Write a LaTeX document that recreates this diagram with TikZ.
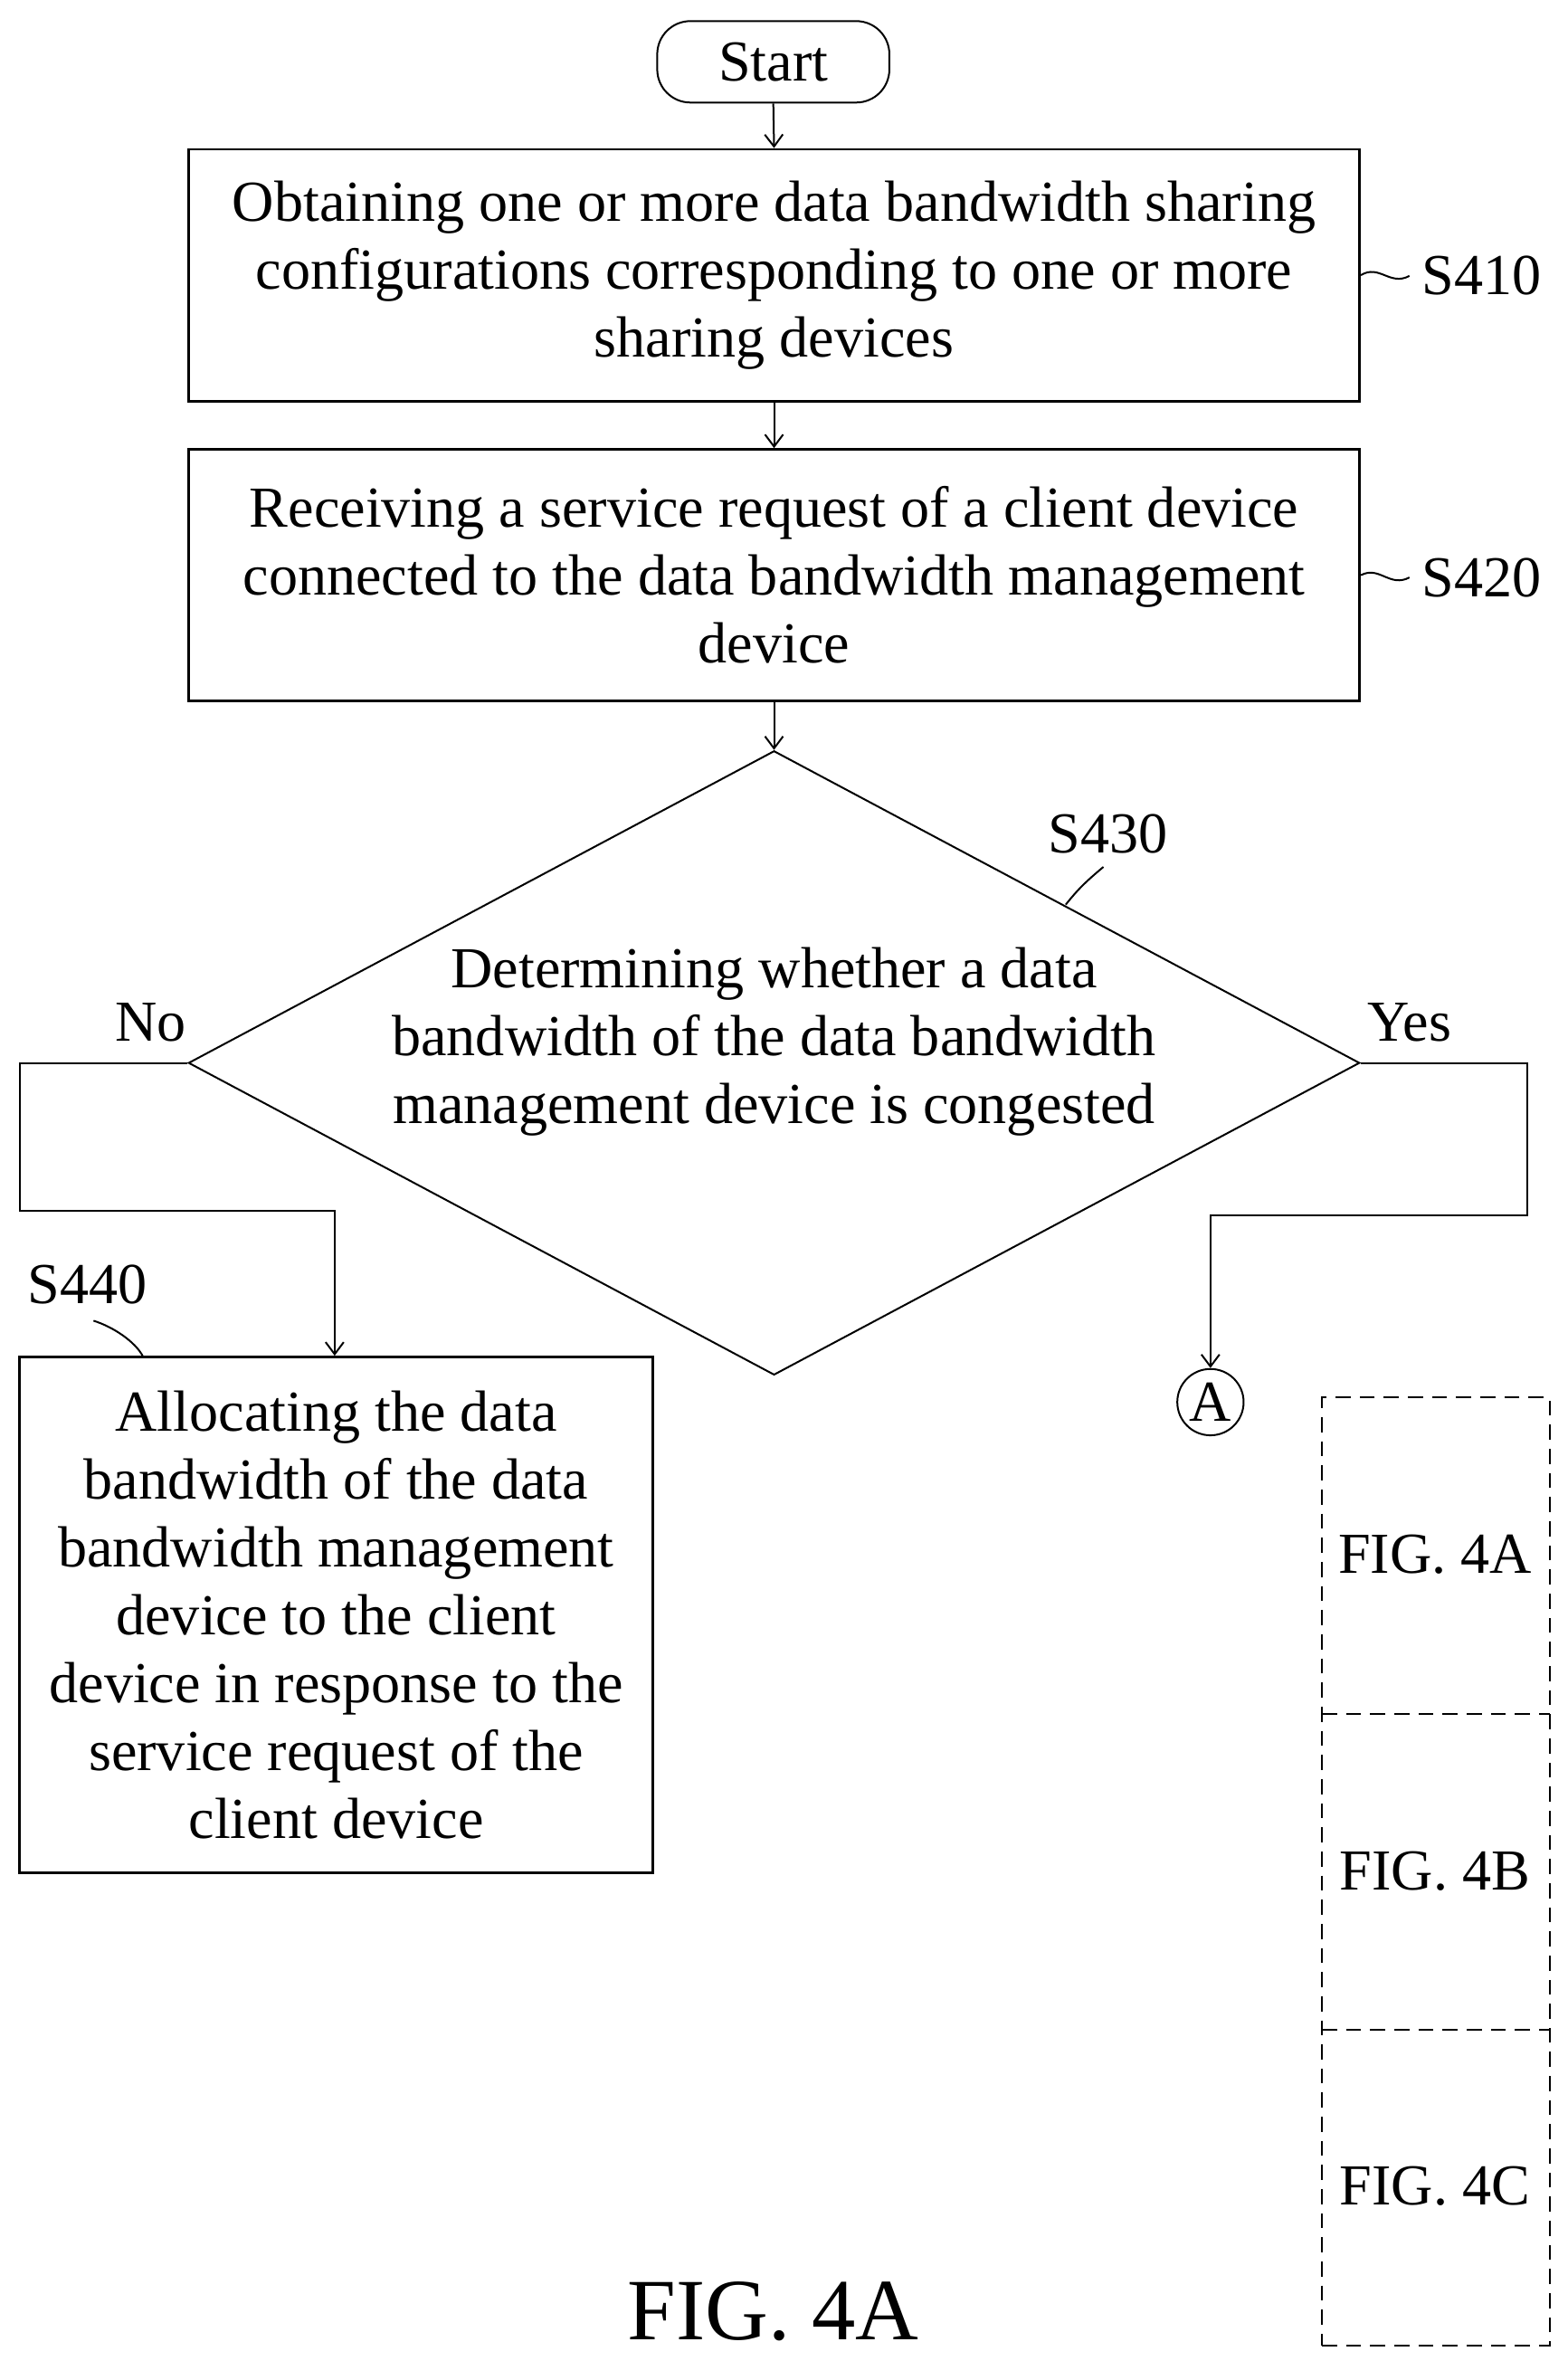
\documentclass[tikz,border=0pt]{standalone}
\usepackage{fontspec}
\setmainfont{Liberation Serif}
\usetikzlibrary{shapes.geometric,arrows.meta}
\begin{document}
\begin{tikzpicture}[x=1pt,y=-1pt,
  every node/.style={font=\fontsize{38.5}{45}\selectfont},
  box/.style={draw,line width=1.6pt,align=center,inner sep=0pt},
  ln/.style={line width=1.2pt},
  arr/.style={ln,-{Straight Barb[length=8pt,width=12pt]}},
  dsh/.style={line width=1.2pt,dash pattern=on 10pt off 6pt}]
\useasboundingbox (0,0) rectangle (1040,1566);
\node[draw,ln,rounded corners=22pt,minimum width=154pt,minimum height=54pt,inner sep=0pt] (start) at (513,41) {Start};
\node[box,minimum width=777pt,minimum height=167pt] (s410) at (513.5,182.5) {Obtaining one or more data bandwidth sharing\\configurations corresponding to one or more\\sharing devices};
\node[box,minimum width=777pt,minimum height=167pt] (s420) at (513.5,381.5) {Receiving a service request of a client device\\connected to the data bandwidth management\\device};
\node[draw,ln,diamond,aspect=1.876,minimum width=777pt,minimum height=414pt,inner sep=0pt] (d) at (513.5,705) {};
\node[align=center] (dt) at (513.5,691) {Determining whether a data\\bandwidth of the data bandwidth\\management device is congested};
\node[box,minimum width=420pt,minimum height=342pt] (s440) at (223,1071) {Allocating the data\\bandwidth of the data\\bandwidth management\\device to the client\\device in response to the\\service request of the\\client device};
\node[draw,ln,circle,minimum size=44pt,inner sep=0pt] (a) at (803,930) {A};
\node (l410) at (983,183) {S410};
\node (l420) at (983,383) {S420};
\node (l430) at (735,553) {S430};
\node (l440) at (58,852) {S440};
\node (no) at (100,678) {No};
\node (yes) at (935,678) {Yes};
\draw[arr] (start.south) -- (s410.north);
\draw[arr] (s410.south) -- (s420.north);
\draw[arr] (s420.south) -- (d.north);
\coordinate (n1) at (13,705); \coordinate (n2) at (13,803); \coordinate (n3) at (222,803);
\draw[arr] (d.west) -- (n1) -- (n2) -- (n3) -- (s440.north -| n3);
\coordinate (y1) at (1013,705); \coordinate (y2) at (1013,806); \coordinate (y3) at (803,806);
\draw[arr] (d.east) -- (y1) -- (y2) -- (y3) -- (a.north);
\draw[ln] (s410.east) .. controls (915,175) and (922,190) .. (935,183);
\draw[ln] (s420.east) .. controls (915,375) and (922,390) .. (935,383);
\draw[ln] (707,600) .. controls (715,590) and (720,585) .. (732,575);
\draw[ln] (62,876) .. controls (75,880) and (90,890) .. (95,900);
\node[draw,dsh,minimum width=151pt,minimum height=629pt,inner sep=0pt] (fr) at (952.5,1241.5) {};
\coordinate (f1) at (877,1137); \coordinate (f2) at (1028,1137);
\coordinate (f3) at (877,1346); \coordinate (f4) at (1028,1346);
\draw[dsh] (f1) -- (f2); \draw[dsh] (f3) -- (f4);
\node (fa) at (952,1031) {FIG. 4A};
\node (fb) at (952,1241) {FIG. 4B};
\node (fc) at (952,1450) {FIG. 4C};
\node[font=\fontsize{58}{64}\selectfont] (cap) at (513,1533) {FIG. 4A};
\end{tikzpicture}
\end{document}
